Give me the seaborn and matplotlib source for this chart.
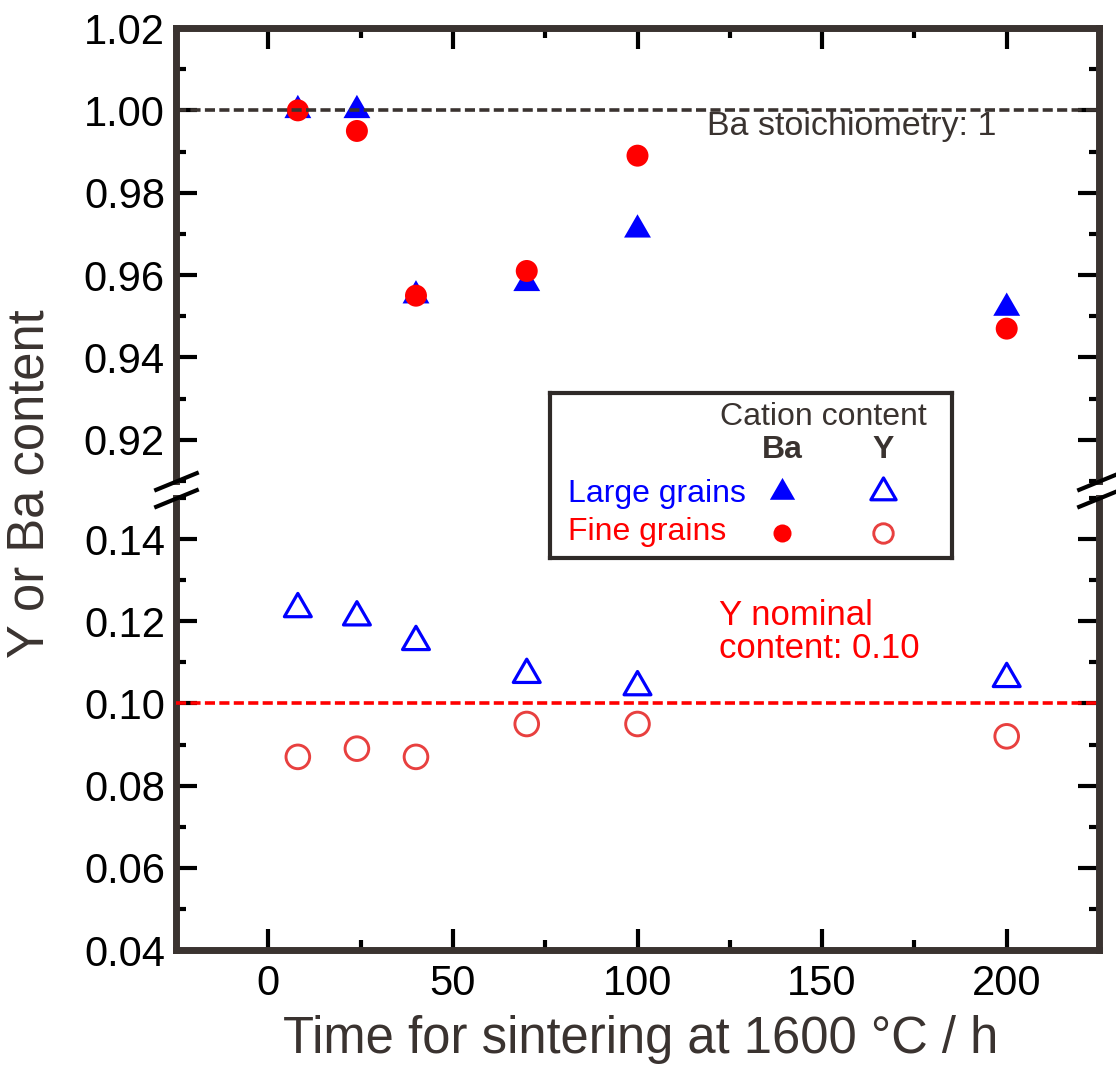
import matplotlib
matplotlib.use("Agg")
import matplotlib.pyplot as plt
from matplotlib.path import Path
from matplotlib.ticker import MultipleLocator, FormatStrFormatter
import seaborn as sns

# Sintering time (h) at 1600 °C
hours = [8, 24, 40, 70, 100, 200]

# Cation content from analysis
ba_large = [1.000, 1.000, 0.955, 0.958, 0.971, 0.952]
ba_fine = [1.000, 0.995, 0.955, 0.961, 0.989, 0.947]
y_large = [0.123, 0.121, 0.115, 0.107, 0.104, 0.106]
y_fine = [0.087, 0.089, 0.087, 0.095, 0.095, 0.092]

# Reference levels
ba_stoich = 1.00
y_nominal = 0.10

upper_range = (0.91, 1.02)
lower_range = (0.04, 0.15)
time_range = (-25, 225)

BLUE = "#0000ff"
RED = "#ff0000"
RED_OPEN = "#e8403f"
INK = "#3a3330"

sns.set_style("ticks")
plt.rcParams["font.family"] = ["Liberation Sans", "DejaVu Sans"]

W, H = 1116, 1066
fig = plt.figure(figsize=(W / 100, H / 100), dpi=100)


def fig_box(left, top, right, bottom):
    return [left / W, 1 - bottom / H, (right - left) / W, (bottom - top) / H]


ax_top = fig.add_axes(fig_box(176, 28, 1099, 481))
ax_bot = fig.add_axes(fig_box(176, 498, 1099, 950))

# equilateral triangle centred on its circumcentre
TRI = Path([(0, 1), (-0.866, -0.5), (0.866, -0.5), (0, 0)], closed=True)

for ax in (ax_top, ax_bot):
    sns.scatterplot(x=hours, y=ba_large, ax=ax, marker=TRI, s=500,
                    color=BLUE, edgecolor="none", linewidth=0, zorder=3)
    sns.scatterplot(x=hours, y=ba_fine, ax=ax, marker="o", s=250,
                    color=RED, edgecolor="none", linewidth=0, zorder=4)
    sns.scatterplot(x=hours, y=y_large, ax=ax, marker=TRI, s=500,
                    color=BLUE, facecolor="none", edgecolor=BLUE,
                    linewidth=2.3, zorder=3)
    sns.scatterplot(x=hours, y=y_fine, ax=ax, marker="o", s=290,
                    color=RED_OPEN, facecolor="none", edgecolor=RED_OPEN,
                    linewidth=2.1, zorder=4)

    ax.set_xlim(time_range)
    ax.xaxis.set_major_locator(MultipleLocator(50))
    ax.xaxis.set_minor_locator(MultipleLocator(25))
    ax.yaxis.set_major_locator(MultipleLocator(0.02))
    ax.yaxis.set_minor_locator(MultipleLocator(0.01))
    ax.yaxis.set_major_formatter(FormatStrFormatter("%.2f"))
    ax.set_xlabel("")
    ax.set_ylabel("")
    ax.tick_params(which="both", direction="in", color="black",
                   left=True, right=True, labelcolor="black")
    ax.tick_params(which="major", length=15, width=3, labelsize=30)
    ax.tick_params(which="minor", length=7.5, width=3)
    ax.tick_params(axis="y", which="major", pad=8)
    ax.tick_params(axis="x", which="major", pad=10)
    for side in ("left", "right", "top", "bottom"):
        ax.spines[side].set_linewidth(5)
        ax.spines[side].set_color(INK)
        ax.spines[side].set_visible(True)

ax_top.set_ylim(upper_range)
ax_bot.set_ylim(lower_range)

ax_top.spines["bottom"].set_visible(False)
ax_bot.spines["top"].set_visible(False)
ax_top.tick_params(axis="x", which="both", bottom=False, labelbottom=False, top=True)
ax_bot.tick_params(axis="x", which="both", top=False, bottom=True)

# reference levels
dash = (0, (2.8, 1.2))
ax_top.axhline(ba_stoich, color=INK, lw=2.6, ls=dash, zorder=5)
ax_bot.axhline(y_nominal, color=RED, lw=2.6, ls=dash, zorder=5)

ax_top.text(158, 0.9940, "Ba stoichiometry: 1", ha="center", va="baseline",
            fontsize=24.5, color=INK)
ax_bot.text(122, 0.1111, "Y nominal\ncontent: 0.10", ha="left", va="baseline",
            fontsize=25, color=RED, linespacing=1.0)

# axis break marks
brk = dict(marker=[(-1, -0.41), (1, 0.41)], markersize=32, linestyle="none",
           color="black", mec="black", mew=3, clip_on=False, zorder=6)
ax_top.plot([0, 1], [0, 0], transform=ax_top.transAxes, **brk)
ax_bot.plot([0, 1], [1, 1], transform=ax_bot.transAxes, **brk)

fig.text(641 / W, 1 - 1053 / H, "Time for sintering at 1600 °C / h",
         ha="center", va="baseline", fontsize=36.5, color=INK)
fig.text(30 / W, 1 - 484 / H, "Y or Ba content", rotation=90,
         ha="center", va="center", fontsize=36.5, color=INK)

# key box
leg = fig.add_axes(fig_box(550, 393, 952, 558), zorder=10)
leg.set_xlim(0, 1)
leg.set_ylim(0, 1)
leg.set_xticks([])
leg.set_yticks([])
leg.set_facecolor("white")
for side in leg.spines.values():
    side.set_linewidth(3)
    side.set_color("#2f2a28")

leg.text(0.679, 0.806, "Cation content", ha="center", va="baseline",
         fontsize=23, color=INK)
leg.text(0.577, 0.606, "Ba", ha="center", va="baseline", fontsize=23,
         fontweight="bold", color=INK)
leg.text(0.828, 0.606, "Y", ha="center", va="baseline", fontsize=23,
         fontweight="bold", color=INK)
leg.text(0.045, 0.34, "Large grains", ha="left", va="baseline",
         fontsize=23, color=BLUE)
leg.text(0.045, 0.109, "Fine grains", ha="left", va="baseline",
         fontsize=23, color=RED)
leg.plot([0.577], [0.40], marker=TRI, ms=21, color=BLUE, mec="none", ls="none")
leg.plot([0.828], [0.40], marker=TRI, ms=21, mfc="none", mec=BLUE, mew=2.3, ls="none")
leg.plot([0.577], [0.152], marker="o", ms=13, color=RED, mec="none", ls="none")
leg.plot([0.828], [0.152], marker="o", ms=14, mfc="none", mec=RED_OPEN, mew=2.1, ls="none")

fig.savefig("out.png", dpi=100)
